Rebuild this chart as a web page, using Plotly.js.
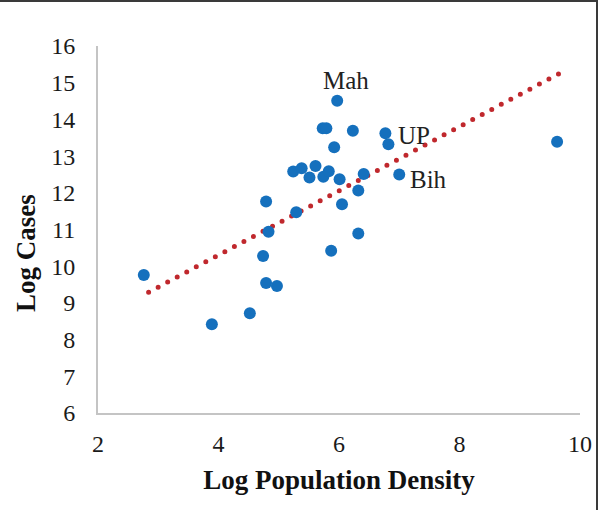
<!DOCTYPE html>
<html>
<head>
<meta charset="utf-8">
<script src="https://cdn.plot.ly/plotly-3.0.1.min.js"></script>
<style>
  html, body { margin: 0; padding: 0; background: #fff; overflow: hidden; }
  #chart { width: 605px; height: 510px; }
  #frame { position: absolute; left: -5px; top: 0; width: 603px; height: 520px;
           border-top: 2px solid #3a3a3a; border-right: 2px solid #3a3a3a;
           box-sizing: border-box; pointer-events: none; }
  .scatterlayer .trace path.js-line { stroke-linecap: round !important; }
</style>
</head>
<body>
<div id="chart"></div>
<div id="frame"></div>
<script>
// Log population density (x) and log cases (y) per state
var logDensity = [2.76, 3.89, 4.52, 4.74, 4.79, 4.97, 4.79, 4.83, 5.29, 5.24,
                  5.38, 5.51, 5.61, 5.74, 5.83, 5.73, 5.79, 5.97, 5.92, 6.01,
                  6.05, 5.87, 6.23, 6.32, 6.32, 6.41, 6.77, 6.82, 7.00, 9.62];
var logCases   = [9.76, 8.42, 8.72, 10.28, 9.54, 9.46, 11.76, 10.94, 11.47, 12.58,
                  12.67, 12.42, 12.73, 12.44, 12.59, 13.76, 13.76, 14.51, 13.24, 12.37,
                  11.69, 10.42, 13.69, 12.06, 10.89, 12.51, 13.62, 13.32, 12.50, 13.39];

// Linear trendline end points
var trendX = [2.84, 9.70];
var trendY = [9.29, 15.29];

// Labelled points
var labelText  = ['Mah', 'UP', 'Bih'];
var labelIndex = [17, 26, 28];

var labelStyle = {
  'Mah': {xanchor: 'center', yanchor: 'bottom', xshift: 9, yshift: 5},
  'UP':  {xanchor: 'left', yanchor: 'middle', xshift: 11, yshift: -2},
  'Bih': {xanchor: 'left', yanchor: 'middle', xshift: 9, yshift: -5}
};

var serif = 'Liberation Serif, Times New Roman, serif';

var annotations = labelText.map(function (t, k) {
  var i = labelIndex[k];
  var s = labelStyle[t];
  return {
    x: logDensity[i], y: logCases[i], xref: 'x', yref: 'y',
    text: t, showarrow: false,
    xanchor: s.xanchor, yanchor: s.yanchor, xshift: s.xshift, yshift: s.yshift,
    font: {family: serif, size: 25, color: '#222'}
  };
});

var traces = [
  {
    x: trendX, y: trendY, type: 'scatter', mode: 'lines',
    line: {color: '#C0282D', width: 5, dash: '0px,10.8px'},
    hoverinfo: 'skip', showlegend: false
  },
  {
    x: logDensity, y: logCases, type: 'scatter', mode: 'markers',
    marker: {color: '#1570BD', size: 12},
    showlegend: false
  }
];

var layout = {
  width: 605, height: 510,
  margin: {l: 98, r: 25, t: 46, b: 97},
  paper_bgcolor: '#fff', plot_bgcolor: '#fff',
  showlegend: false,
  font: {family: serif, color: '#1a1a1a'},
  xaxis: {
    range: [2, 10], dtick: 2, tick0: 2,
    showgrid: false, zeroline: false,
    showline: true, linecolor: '#C4C4C4', linewidth: 2,
    ticks: '', ticklabelstandoff: 8,
    tickfont: {family: serif, size: 24, color: '#1a1a1a'},
    title: {text: 'Log Population Density', standoff: 14,
            font: {family: serif, size: 27, color: '#111', weight: 'bold'}}
  },
  yaxis: {
    range: [6, 16], dtick: 1, tick0: 6,
    showgrid: false, zeroline: false,
    showline: true, linecolor: '#C4C4C4', linewidth: 2,
    ticks: '', ticklabelstandoff: 16,
    tickfont: {family: serif, size: 24, color: '#1a1a1a'},
    title: {text: 'Log Cases&nbsp;&nbsp;&nbsp;&nbsp;&nbsp;&nbsp;&nbsp;', standoff: 8,
            font: {family: serif, size: 27, color: '#111', weight: 'bold'}}
  },
  annotations: annotations
};

Plotly.newPlot('chart', traces, layout, {displayModeBar: false, staticPlot: true});
</script>
</body>
</html>
